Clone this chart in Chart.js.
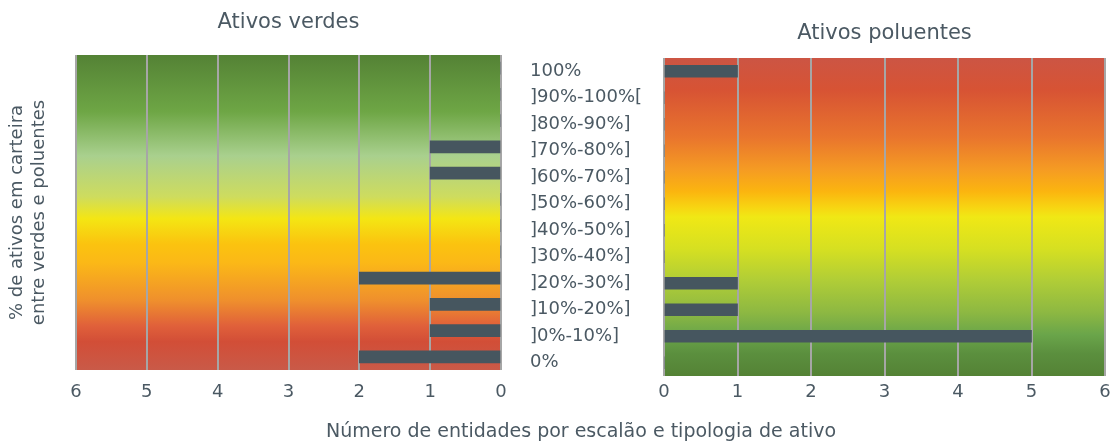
<!DOCTYPE html>
<html>
<head>
<meta charset="utf-8">
<script src="https://cdn.jsdelivr.net/npm/chart.js@4"></script>
<style>
  body { margin: 0; background: #fff; }
  #wrap { position: relative; width: 1112px; height: 444px; }
  #wrap canvas { position: absolute; left: 0; top: 0; }
</style>
</head>
<body>
<div id="wrap">
  <canvas id="verdes" width="1112" height="444"></canvas>
  <canvas id="poluentes" width="1112" height="444"></canvas>
</div>
<script>
// dados
const escaloes = ['100%', ']90%-100%[', ']80%-90%]', ']70%-80%]', ']60%-70%]', ']50%-60%]',
  ']40%-50%]', ']30%-40%]', ']20%-30%]', ']10%-20%]', ']0%-10%]', '0%']
const ativosVerdes = [0, 0, 0, 1, 1, 0, 0, 0, 2, 1, 1, 2]
const ativosPoluentes = [1, 0, 0, 0, 0, 0, 0, 0, 1, 1, 5, 0]
const eixoMin = 0
const eixoMax = 6

const corTexto = '#4b5963'
const corBarra = '#46565f'
const fonte = 'DejaVu Sans'

// fundo em degrade dentro da area do grafico
const fundo = {
  id: 'fundo',
  beforeDraw(chart, args, opts) {
    const { ctx, chartArea: a } = chart
    const g = ctx.createLinearGradient(0, a.top, 0, a.bottom)
    opts.stops.forEach(s => g.addColorStop(s[0], s[1]))
    ctx.save()
    ctx.fillStyle = g
    ctx.fillRect(a.left, a.top, a.width, a.height)
    ctx.restore()
  }
}

// titulo comum em baixo
const tituloBaixo = {
  id: 'tituloBaixo',
  afterDraw(chart, args, opts) {
    if (!opts.text) return
    const ctx = chart.ctx
    ctx.save()
    ctx.font = '19px "' + fonte + '"'
    ctx.fillStyle = corTexto
    ctx.textAlign = 'center'
    ctx.textBaseline = 'middle'
    ctx.fillText(opts.text, 581, 432)
    ctx.restore()
  }
}

Chart.defaults.font.family = fonte
Chart.defaults.color = corTexto

new Chart(document.getElementById('verdes'), {
  type: 'bar',
  data: {
    labels: escaloes,
    datasets: [{ data: ativosVerdes, backgroundColor: corBarra, barThickness: 12 }]
  },
  plugins: [fundo, tituloBaixo],
  options: {
    indexAxis: 'y',
    responsive: false,
    animation: false,
    layout: { padding: { left: 0, right: 611, top: 0, bottom: 0 } },
    plugins: {
      legend: { display: false },
      tooltip: { enabled: false },
      title: {
        display: true, text: 'Ativos verdes', fullSize: false, color: corTexto,
        font: { size: 21, weight: 'normal', lineHeight: 1.2 }, padding: { top: 10, bottom: 19.8 }
      },
      fundo: {
        stops: [[0, '#548235'], [0.18, '#6ea645'], [0.32, '#a9d08e'], [0.45, '#cedc5e'],
          [0.52, '#f4e613'], [0.6, '#fbc30f'], [0.66, '#fbb817'], [0.78, '#ef8f2d'],
          [0.86, '#e0603a'], [0.91, '#d24e37'], [1, '#c95a48']]
      },
      tituloBaixo: { text: 'Número de entidades por escalão e tipologia de ativo' }
    },
    scales: {
      x: {
        reverse: true, min: eixoMin, max: eixoMax,
        ticks: { stepSize: 1, padding: 12, font: { size: 18 } },
        grid: { color: '#a6a6a6', lineWidth: 2, drawTicks: false },
        border: { display: false },
        afterFit: s => { s.height = 74 }
      },
      y: {
        ticks: { display: false },
        grid: { display: false },
        border: { display: false },
        title: {
          display: true, text: ['% de ativos em carteira', 'entre verdes e poluentes'],
          font: { size: 18, lineHeight: 1.25 }, padding: { top: 6, bottom: 0 }
        },
        afterFit: s => { s.width = 76 }
      }
    }
  }
})

new Chart(document.getElementById('poluentes'), {
  type: 'bar',
  data: {
    labels: escaloes,
    datasets: [{ data: ativosPoluentes, backgroundColor: corBarra, barThickness: 12 }]
  },
  plugins: [fundo],
  options: {
    indexAxis: 'y',
    responsive: false,
    animation: false,
    layout: { padding: { left: 530, right: 7, top: 0, bottom: 0 } },
    plugins: {
      legend: { display: false },
      tooltip: { enabled: false },
      title: {
        display: true, text: 'Ativos poluentes', fullSize: false, color: corTexto,
        font: { size: 21, weight: 'normal', lineHeight: 1.2 }, padding: { top: 21, bottom: 11.8 }
      },
      fundo: {
        stops: [[0, '#cc5544'], [0.1, '#d75334'], [0.25, '#e9752d'], [0.35, '#f59b23'],
          [0.42, '#fbb50f'], [0.47, '#f7d512'], [0.5, '#f0e815'], [0.6, '#d6e021'],
          [0.7, '#b0cd37'], [0.8, '#8db842'], [0.87, '#6aa54a'], [0.93, '#5b8f3e'], [1, '#548235']]
      }
    },
    scales: {
      x: {
        min: eixoMin, max: eixoMax,
        ticks: { stepSize: 1, padding: 6, font: { size: 18 } },
        grid: { color: '#a6a6a6', lineWidth: 2, drawTicks: false },
        border: { display: false },
        afterFit: s => { s.height = 68; s.paddingRight = 0 }
      },
      y: {
        ticks: { crossAlign: 'far', font: { size: 18 } },
        grid: { display: false },
        border: { display: false },
        afterFit: s => { s.width = 134 }
      }
    }
  }
})
</script>
</body>
</html>
